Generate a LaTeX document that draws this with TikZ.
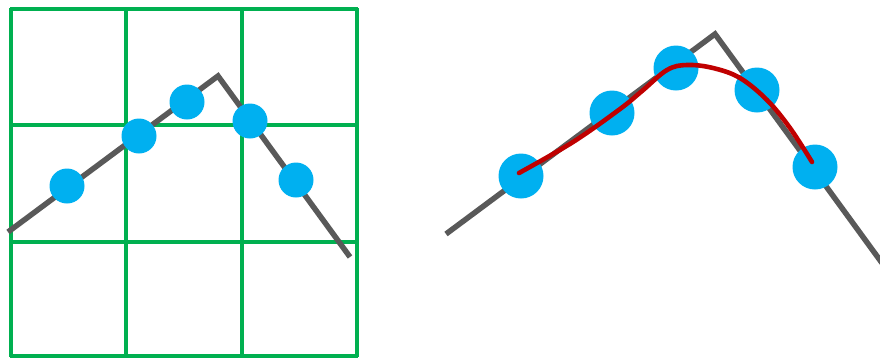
\documentclass[tikz,border=0pt]{standalone}
\definecolor{gridgreen}{HTML}{00B050}
\definecolor{dotblue}{HTML}{00B0F0}
\definecolor{linegray}{HTML}{595959}
\definecolor{curvered}{HTML}{C00000}
\tikzset{
  gridline/.style={gridgreen, line width=3.4pt},
  polyline/.style={linegray, line width=5.5pt},
  smalldot/.style={circle, fill=dotblue, draw=none, minimum size=35pt, inner sep=0pt},
  bigdot/.style={circle, fill=dotblue, draw=none, minimum size=45pt, inner sep=0pt},
  fitcurve/.style={curvered, line width=4.6pt, line cap=round}
}
\begin{document}
\begin{tikzpicture}[x=1pt, y=-1pt]
\useasboundingbox (0,0) rectangle (880,360);
% left grid
\foreach \gx in {11,126,242,357} \draw[gridline] (\gx,8) -- (\gx,357);
\foreach \gy in {9,125,242,356} \draw[gridline] (10,\gy) -- (358,\gy);
% left polyline
\coordinate (la) at (8,232);
\coordinate (lb) at (218,76);
\coordinate (lc) at (350,257);
\draw[polyline] (la) -- (lb) -- (lc);
\node[smalldot] (d1) at (67,186) {};
\node[smalldot] (d2) at (139,136) {};
\node[smalldot] (d3) at (187,102) {};
\node[smalldot] (d4) at (250,121) {};
\node[smalldot] (d5) at (296,180) {};
% right polyline
\coordinate (ra) at (446,234);
\coordinate (rb) at (715,34);
\coordinate (rc) at (882,263);
\draw[polyline] (ra) -- (rb) -- (rc);
\node[bigdot] (e1) at (521,176) {};
\node[bigdot] (e2) at (612,113) {};
\node[bigdot] (e3) at (676,68) {};
\node[bigdot] (e4) at (757,90) {};
\node[bigdot] (e5) at (815,167) {};
\draw[fitcurve] plot[smooth, tension=0.6] coordinates {(519,173) (573,142) (620,109) (642,91) (667,70) (687,65) (713,68) (740,78) (767,100) (790,128) (812,162)};
\end{tikzpicture}
\end{document}
